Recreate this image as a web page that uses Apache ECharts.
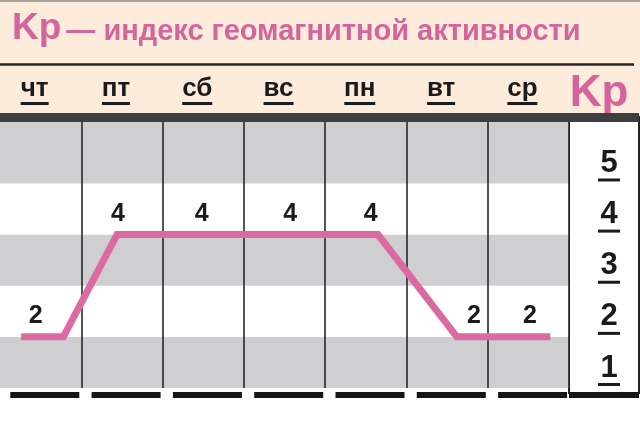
<!DOCTYPE html>
<html>
<head>
<meta charset="utf-8">
<script src="https://cdn.jsdelivr.net/npm/echarts@6/dist/echarts.min.js"></script>
<style>
  html, body { margin: 0; padding: 0; background: #fff; }
  #main { width: 640px; height: 424px; }
</style>
</head>
<body>
<div id="main"></div>
<script>
// дни недели и индекс Kp по дням
const days = ['чт', 'пт', 'сб', 'вс', 'пн', 'вт', 'ср'];
const kpValues = [2, 4, 4, 4, 4, 2, 2];
// где стоят цифры над линией (в долях дня от левого края)
const labelPos = [0.44, 1.45, 2.48, 3.57, 4.56, 5.83, 6.52];
// изломы розовой линии
const lineX = [0.26, 0.78, 1.44, 4.65, 5.62, 6.77];
const lineY = [2, 2, 4, 4, 2, 2];
// шкала справа
const kpTicks = ['1', '2', '3', '4', '5'];

const FONT = '"Liberation Sans", Arial, sans-serif';
const PINK = '#d5639c';
const LINE_PINK = '#dc69a2';
const GRAY = '#cfcfd1';
const INK = '#1b1b1b';

// ширина подчёркивания = ширина подписи
const ctx = document.createElement('canvas').getContext('2d');
ctx.font = 'bold 26px ' + FONT;
const dayRich = {
  d: {fontSize: 26, fontWeight: 'bold', fontFamily: FONT, color: INK, lineHeight: 27}
};
days.forEach((d, i) => {
  dayRich['u' + i] = {
    width: Math.round(ctx.measureText(d).width), height: 3, lineHeight: 3,
    backgroundColor: INK, fontSize: 1
  };
});

const chart = echarts.init(document.getElementById('main'));

chart.setOption({
  backgroundColor: '#fff',
  animation: false,
  textStyle: {fontFamily: FONT},
  title: {
    text: '{k|Kp} {t|— индекс геомагнитной активности}',
    left: 7,
    top: 3,
    textStyle: {
      rich: {
        k: {fontSize: 37, fontWeight: 'bold', color: PINK, fontFamily: FONT, lineHeight: 42},
        t: {fontSize: 29, fontWeight: 'bold', color: PINK, fontFamily: FONT, padding: [5, 0, 0, 0]}
      }
    }
  },
  graphic: [
    {type: 'rect', z: -10, silent: true,
     shape: {x: 0, y: 0, width: 640, height: 113}, style: {fill: '#fdebdc'}},
    {type: 'line', silent: true,
     shape: {x1: 0, y1: 1, x2: 640, y2: 1}, style: {stroke: '#aaa49c', lineWidth: 2}},
    {type: 'line', silent: true,
     shape: {x1: 0, y1: 64.5, x2: 634, y2: 64.5}, style: {stroke: '#262626', lineWidth: 2.5}}
  ],
  grid: [
    {left: 0, right: 71, top: 117, bottom: 36},
    {left: 569, right: 1, top: 117, bottom: 31, show: true,
     backgroundColor: '#fff', borderColor: '#222', borderWidth: 2}
  ],
  xAxis: [
    {
      gridIndex: 0, type: 'category', data: days, position: 'top', z: 1,
      axisLine: {onZero: false, lineStyle: {color: '#3e3e3e', width: 9, cap: 'butt'}},
      axisTick: {show: false},
      splitLine: {show: true, interval: i => i !== 0, lineStyle: {color: '#1c1c1c', width: 1.5}},
      axisLabel: {
        interval: 0, margin: 12, padding: [0, 12, 0, 0], rich: dayRich,
        formatter: (v, i) => '{d|' + v + '}\n{u' + i + '| }'
      }
    },
    {gridIndex: 0, type: 'value', min: 0, max: 7, show: false},
    {
      gridIndex: 0, type: 'category', data: days, position: 'bottom', offset: 7,
      axisLine: {onZero: false, lineStyle: {color: '#151515', width: 6, cap: 'butt', type: [69, 12.3], dashOffset: 71}},
      axisTick: {show: false}, axisLabel: {show: false}, splitLine: {show: false}
    },
    {
      gridIndex: 1, type: 'category', data: [''], position: 'top', z: 3,
      axisLine: {onZero: false, lineStyle: {color: '#3e3e3e', width: 9, cap: 'butt'}},
      axisTick: {show: false}, axisLabel: {show: false},
      name: 'Kp', nameLocation: 'middle', nameGap: 1,
      nameTextStyle: {color: PINK, fontSize: 44, fontWeight: 'bold', fontFamily: FONT, padding: [0, 10, 0, 0]}
    },
    {
      gridIndex: 1, type: 'category', data: [''], position: 'bottom', offset: 2, z: 3,
      axisLine: {onZero: false, lineStyle: {color: '#151515', width: 6, cap: 'butt'}},
      axisTick: {show: false}, axisLabel: {show: false}
    }
  ],
  yAxis: [
    {
      gridIndex: 0, type: 'value', min: 1, max: 6.3, interval: 1, position: 'right',
      axisLine: {show: false}, axisTick: {show: false}, splitLine: {show: false},
      splitArea: {show: true, areaStyle: {color: [GRAY, '#fff', GRAY, '#fff', GRAY, GRAY]}},
      axisLabel: {
        margin: 40, align: 'center', verticalAlign: 'bottom', padding: [0, 0, 2, 0],
        formatter: v => kpTicks.indexOf(String(v)) < 0 ? '' : '{n|' + v + '}\n{u| }',
        rich: {
          n: {fontSize: 31, fontWeight: 'bold', fontFamily: FONT, color: INK, lineHeight: 30},
          u: {width: 22, height: 3, lineHeight: 3, backgroundColor: INK, fontSize: 1}
        }
      }
    },
    {gridIndex: 1, type: 'value', min: 0, max: 1, show: false}
  ],
  series: [
    {
      type: 'line', xAxisIndex: 1, yAxisIndex: 0, silent: true, z: 3,
      data: lineX.map((x, i) => [x, lineY[i]]),
      symbol: 'none',
      lineStyle: {color: LINE_PINK, width: 7, cap: 'butt', join: 'miter'}
    },
    {
      type: 'scatter', xAxisIndex: 1, yAxisIndex: 0, silent: true, z: 4,
      data: labelPos.map((x, i) => [x, kpValues[i]]),
      symbolSize: 0,
      itemStyle: {opacity: 1},
      label: {
        show: true, position: 'top', distance: 8, opacity: 1,
        formatter: p => p.value[1],
        fontSize: 25, fontWeight: 'bold', color: INK, fontFamily: FONT
      }
    }
  ]
});
</script>
</body>
</html>
